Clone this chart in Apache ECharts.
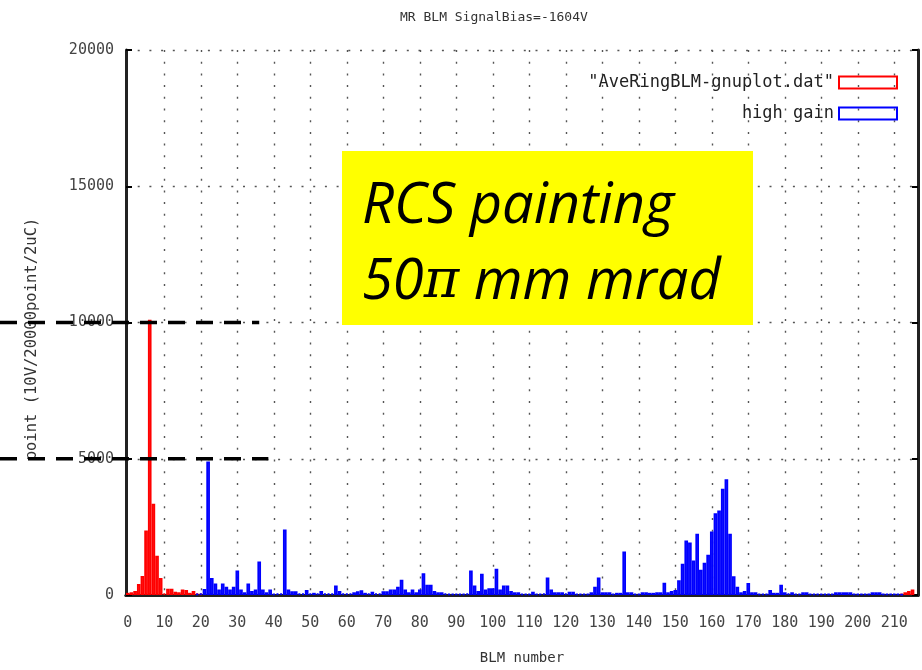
<!DOCTYPE html>
<html>
<head>
<meta charset="utf-8">
<script src="https://cdn.jsdelivr.net/npm/echarts@6/dist/echarts.min.js"></script>
<style>
html,body{margin:0;padding:0;background:#fff;}
#chart{width:922px;height:670px;}
</style>
</head>
<body>
<div id="chart"></div>
<script>
// ---- data ----
const titleText = 'MR BLM SignalBias=-1604V';
const xName = 'BLM number';
const yName = 'point (10V/20000point/2uC)';
const redName = '"AveRingBLM-gnuplot.dat"';
const blueName = 'high gain';
const yTicks = [0, 5000, 10000, 15000, 20000];
const xTickStep = 10;
const refLevels = [10000, 5000];
const refEnds = [36, 38.5];

const blmNumbers = [];
for (let i = 0; i <= 216; i++) blmNumbers.push(String(i));

const redValues = [
  80,100,150,400,700,2370,10100,3350,1440,620,
  60,230,230,120,100,200,180,80,150,60,
  50,null,null,null,null,null,null,null,null,null,
  null,null,null,null,null,null,null,null,null,null,
  null,null,null,null,null,null,null,null,null,null,
  null,null,null,null,null,null,null,null,null,null,
  null,null,null,null,null,null,null,null,null,null,
  null,null,null,null,null,null,null,null,null,null,
  null,null,null,null,null,null,null,null,null,null,
  null,null,null,null,null,null,null,null,null,null,
  null,null,null,null,null,null,null,null,null,null,
  null,null,null,null,null,null,null,null,null,null,
  null,null,null,null,null,null,null,null,null,null,
  null,null,null,null,null,null,null,null,null,null,
  null,null,null,null,null,null,null,null,null,null,
  null,null,null,null,null,null,null,null,null,null,
  null,null,null,null,null,null,null,null,null,null,
  null,null,null,null,null,null,null,null,null,null,
  null,null,null,null,null,null,null,null,null,null,
  null,null,null,null,null,null,null,null,null,null,
  null,null,null,null,null,null,null,null,null,null,
  null,null,50,100,150,200,null
];

const blueValues = [
  null,null,null,null,null,null,null,null,null,null,
  null,null,null,null,null,null,null,null,null,50,
  60,220,4900,620,420,200,420,300,200,300,
  900,200,100,420,150,200,1230,200,100,200,
  50,60,60,2400,200,140,140,60,60,180,
  60,80,60,150,60,60,60,350,150,60,
  60,60,100,140,170,80,60,120,60,60,
  140,140,200,200,300,560,200,100,200,100,
  200,800,380,380,150,100,100,60,50,50,
  50,50,50,60,900,350,150,780,200,250,
  250,960,200,350,350,150,100,100,50,50,
  50,120,50,50,60,640,200,100,100,100,
  60,120,120,50,50,50,50,100,300,640,
  100,100,100,50,80,80,1600,100,100,50,
  50,100,100,80,80,100,100,445,100,150,
  180,540,1150,2000,1930,1270,2250,930,1180,1480,
  2330,3000,3100,3900,4250,2250,690,300,100,150,
  440,100,100,50,50,50,180,80,80,380,
  100,60,100,50,50,100,100,50,50,50,
  50,50,40,40,100,100,100,100,100,40,
  40,40,40,40,100,100,100,40,40,40,
  40,40,30,null,null,null,null
];

// ---- chart ----
const mono = 'DejaVu Sans Mono';
const chart = echarts.init(document.getElementById('chart'), null, {renderer: 'canvas'});
const tickEvery = (i) => i % xTickStep === 0 && i <= 210;
const dotted = {type: [2, 9.7], width: 1.4, color: '#555'};

const option = {
  animation: false,
  backgroundColor: '#fff',
  title: {
    text: titleText, left: 395, top: 6,
    textStyle: {fontFamily: mono, fontSize: 13, fontWeight: 'normal', color: '#333'}
  },
  legend: {
    orient: 'vertical', right: 24, top: 74, align: 'right',
    itemWidth: 58, itemHeight: 12, itemGap: 14, padding: 0, icon: 'rect',
    textStyle: {fontFamily: mono, fontSize: 17, color: '#222'},
    data: [
      {name: redName, itemStyle: {color: 'rgba(255,255,255,0)', borderColor: '#ff0000', borderWidth: 2}},
      {name: blueName, itemStyle: {color: 'rgba(255,255,255,0)', borderColor: '#0000ff', borderWidth: 2}}
    ]
  },
  grid: {left: 126, right: 4, top: 50, bottom: 73},
  xAxis: [{
    type: 'category', data: blmNumbers, position: 'bottom',
    name: xName, nameLocation: 'middle', nameGap: 56,
    nameTextStyle: {fontFamily: mono, fontSize: 14, color: '#333'},
    axisLine: {lineStyle: {color: '#222', width: 3}},
    axisTick: {inside: true, length: 6, alignWithLabel: true, interval: (i) => tickEvery(i), lineStyle: {color: '#000', width: 2}},
    axisLabel: {interval: (i) => tickEvery(i), margin: 21, fontFamily: mono, fontSize: 15, color: '#444'},
    splitLine: {show: true, alignWithLabel: true, interval: (i) => tickEvery(i) && i > 0, lineStyle: dotted}
  }, {
    type: 'category', data: blmNumbers, position: 'top',
    axisLine: {lineStyle: {color: '#222', width: 3}},
    axisTick: {inside: true, length: 6, alignWithLabel: true, interval: (i) => tickEvery(i), lineStyle: {color: '#000', width: 2}},
    axisLabel: {show: false}, splitLine: {show: false}
  }],
  yAxis: [{
    type: 'value', min: yTicks[0], max: yTicks[yTicks.length - 1], interval: yTicks[1] - yTicks[0],
    position: 'left',
    axisLine: {show: true, lineStyle: {color: '#222', width: 3}},
    axisTick: {show: true, inside: true, length: 6, lineStyle: {color: '#000', width: 2}},
    axisLabel: {margin: 12, fontFamily: mono, fontSize: 15, color: '#444', formatter: (v) => String(v)},
    splitLine: {show: true, lineStyle: dotted}
  }, {
    type: 'value', min: yTicks[0], max: yTicks[yTicks.length - 1], interval: yTicks[1] - yTicks[0],
    position: 'right',
    axisLine: {show: true, lineStyle: {color: '#222', width: 3}},
    axisTick: {show: true, inside: true, length: 6, lineStyle: {color: '#000', width: 2}},
    axisLabel: {show: false}, splitLine: {show: false}
  }],
  series: [{
    name: redName, type: 'bar', data: redValues, barWidth: '100%', barGap: '-100%',
    itemStyle: {color: 'rgba(255,0,0,0.13)', borderColor: '#ff0000', borderWidth: 1.8},
    emphasis: {disabled: true}, z: 2
  }, {
    name: blueName, type: 'bar', data: blueValues, barWidth: '100%', barGap: '-100%',
    itemStyle: {color: 'rgba(0,0,255,0.13)', borderColor: '#0000ff', borderWidth: 1.8},
    emphasis: {disabled: true}, z: 3
  }]
};
chart.setOption(option);

// annotations: y-axis title, yellow box with text, dashed reference lines
const graphics = [
  {type: 'text', z: 40, x: 32, y: 339, rotation: Math.PI / 2, style: {
    text: yName, fontFamily: mono, fontSize: 15.5, fill: '#333', align: 'center', verticalAlign: 'middle'}},
  {type: 'rect', z: 50, shape: {x: 342, y: 151, width: 411, height: 174}, style: {fill: '#ffff00'}},
  {type: 'text', z: 51, left: 362, top: 179, style: {
    text: 'RCS painting', fontFamily: 'Open Sans', fontStyle: 'italic', fontSize: 56, fill: '#000'}},
  {type: 'text', z: 51, left: 362, top: 255, style: {
    text: '{a|50}{p|π}{a| mm mrad}', fill: '#000',
    rich: {
      a: {fontFamily: 'Open Sans', fontStyle: 'italic', fontSize: 56, fill: '#000'},
      p: {fontFamily: 'DejaVu Serif', fontStyle: 'italic', fontSize: 54, fill: '#000'}
    }}}
];
refLevels.forEach((lv, k) => {
  const y = chart.convertToPixel({yAxisIndex: 0}, lv);
  const x2 = chart.convertToPixel({xAxisIndex: 0}, 0) + refEnds[k] * 3.65;
  graphics.push({type: 'line', z: 60, shape: {x1: 0, y1: y, x2: x2, y2: y},
    style: {stroke: '#000', lineWidth: 3.5, lineDash: [17, 11]}});
});
chart.setOption({graphic: graphics});
</script>
</body>
</html>
